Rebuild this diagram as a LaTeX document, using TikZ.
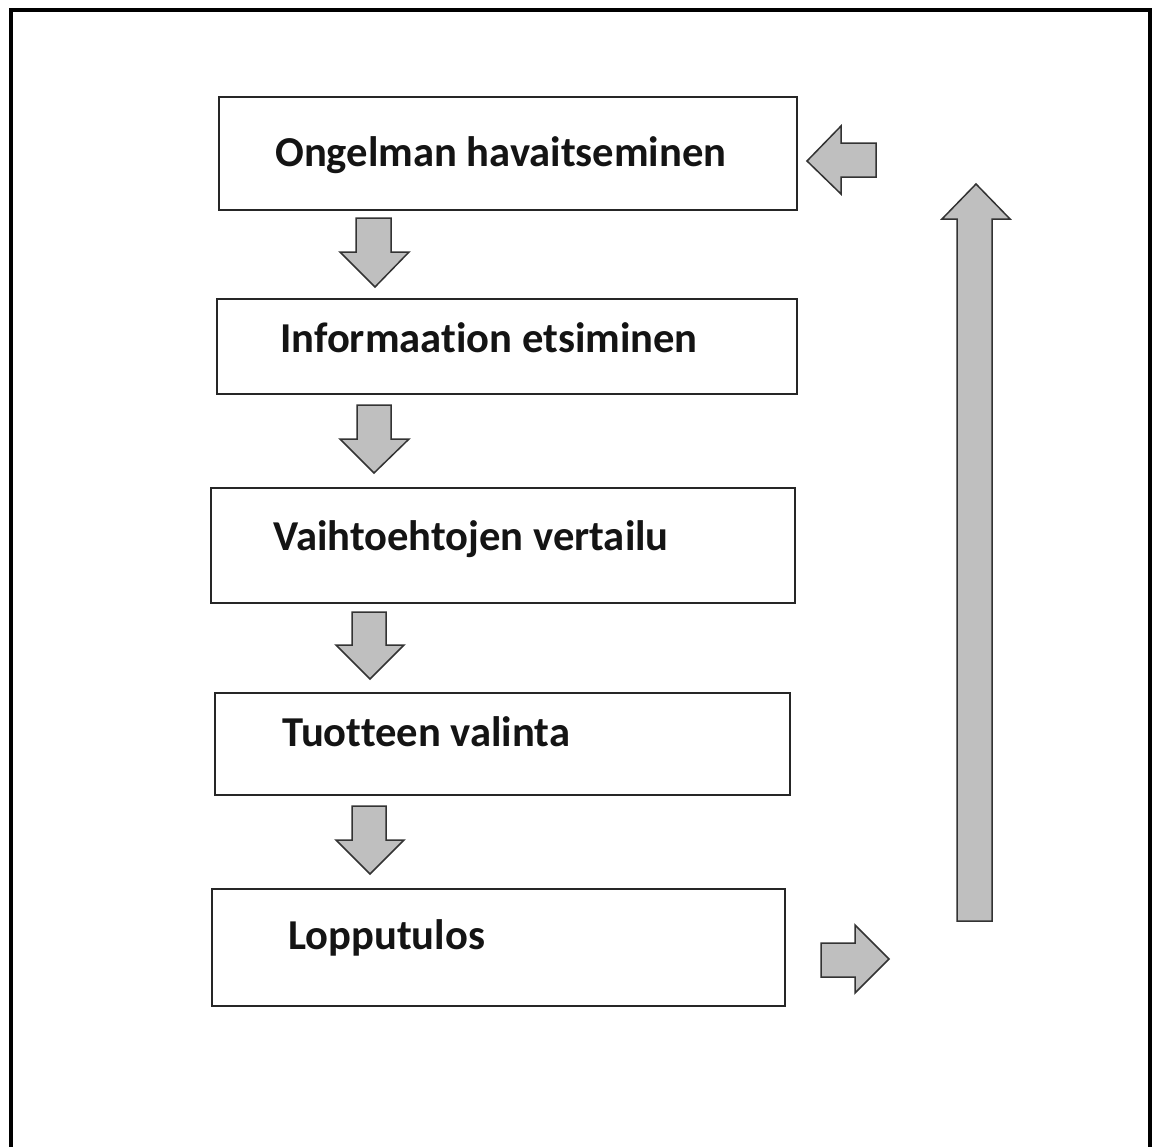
\documentclass[tikz,border=0pt]{standalone}
\usepackage{fontspec}
\setmainfont[Ligatures={NoCommon}]{Carlito}
\begin{document}
\begin{tikzpicture}[x=1pt,y=-1pt,
  box/.style={draw=black!85, line width=2.2pt, fill=white, anchor=north west, inner sep=0, outer sep=0},
  lbl/.style={anchor=base west, inner sep=0, font=\fontsize{42.6}{50}\selectfont\bfseries, text=black!92},
  blk/.style={fill=gray!50, draw=black!80, line width=1.5pt, line join=miter},
  frame/.style={draw=black, line width=4.5pt}]
\useasboundingbox (0,0) rectangle (1153,1146);
\fill[white] (0,0) rectangle (1153,1146);
\draw[frame] (11,1160) -- (11,10) -- (1150,10) -- (1150,1160);

\node[box, minimum width=578, minimum height=113] (b1) at (219,97) {};
\node[box, minimum width=580, minimum height=95]  (b2) at (217,299) {};
\node[box, minimum width=584, minimum height=115] (b3) at (211,488) {};
\node[box, minimum width=575, minimum height=102] (b4) at (215,693) {};
\node[box, minimum width=573, minimum height=117] (b5) at (212,889) {};

\node[lbl] (t1) at (275,166) {Ongelman havaitseminen};
\node[lbl] (t2) at (280,352) {Informaation etsiminen};
\node[lbl] (t3) at (273,550) {Vaihtoehtojen vertailu};
\node[lbl] (t4) at (282,746) {Tuotteen valinta};
\node[lbl] (t5) at (288,949) {Lopputulos};

% down arrows between boxes
\draw[blk] (356,218) -- (391,218) -- (391,252) -- (409,252) -- (375,287) -- (340,252) -- (356,252) -- cycle;
\draw[blk] (357,405) -- (391,405) -- (391,439) -- (409,439) -- (374,473) -- (340,439) -- (357,439) -- cycle;
\draw[blk] (352,612) -- (386,612) -- (386,645) -- (404,645) -- (370,679) -- (336,645) -- (352,645) -- cycle;
\draw[blk] (352,806) -- (386,806) -- (386,840) -- (404,840) -- (370,874) -- (336,840) -- (352,840) -- cycle;
% left arrow at top
\draw[blk] (876,143) -- (841,143) -- (841,126) -- (807,161) -- (841,194) -- (841,177) -- (876,177) -- cycle;
% long up arrow
\draw[blk] (957,921) -- (957,219) -- (942,219) -- (976,184) -- (1010,219) -- (992,219) -- (992,921) -- cycle;
% right arrow at bottom
\draw[blk] (821,943) -- (855,943) -- (855,925) -- (889,959) -- (855,993) -- (855,977) -- (821,977) -- cycle;
\end{tikzpicture}
\end{document}
